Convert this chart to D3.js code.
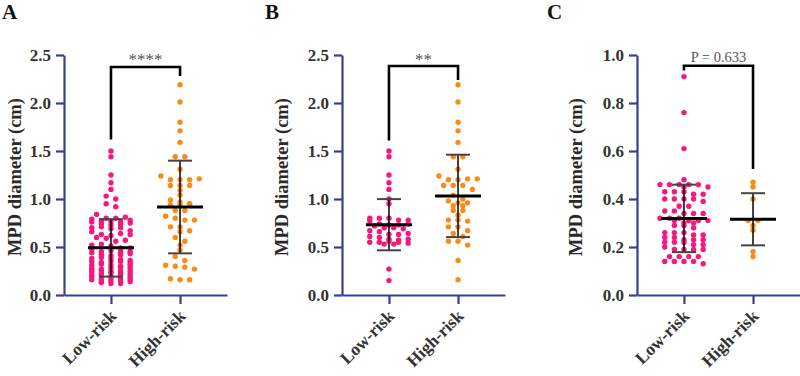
<!DOCTYPE html>
<html>
<head>
<meta charset="utf-8">
<script src="https://cdn.jsdelivr.net/npm/d3@7"></script>
<style>
    body { margin: 0; background: #fff; }
    svg { display: block; }
</style>
</head>
<body>
<script>
const groups = ['Low-risk', 'High-risk'];

// panel A
const a_low = [1.50, 1.44, 1.25, 1.17, 1.10, 1.03, 1.00, 0.95, 0.92, 0.84,
    0.80, 0.80, 0.79, 0.81, 0.77, 0.77, 0.76, 0.78, 0.76, 0.74, 0.73, 0.74, 0.75,
    0.70, 0.71, 0.69, 0.70, 0.67, 0.66, 0.63, 0.62, 0.64, 0.63, 0.60, 0.59,
    0.56, 0.57, 0.52, 0.53, 0.51, 0.49, 0.48, 0.49, 0.45, 0.46, 0.45, 0.44, 0.45,
    0.42, 0.41, 0.42, 0.43, 0.38, 0.39, 0.38, 0.37, 0.35, 0.34, 0.35, 0.36, 0.35, 0.33,
    0.31, 0.32, 0.31, 0.30, 0.31, 0.28, 0.27, 0.28, 0.29, 0.28, 0.26, 0.26,
    0.24, 0.25, 0.24, 0.23, 0.24, 0.25, 0.23, 0.21, 0.22, 0.21, 0.20, 0.21,
    0.19, 0.19, 0.17, 0.18, 0.17, 0.16, 0.17, 0.14, 0.15, 0.14, 0.13, 0.14, 0.12, 0.12];
const a_high = [2.19, 2.01, 1.80, 1.71, 1.59, 1.44, 1.44, 1.31, 1.24, 1.20, 1.20, 1.20, 1.21,
    1.14, 1.14, 1.14, 1.09, 1.04, 0.99, 0.97, 0.95, 0.94, 0.94, 0.94, 0.88, 0.88,
    0.82, 0.80, 0.78, 0.78, 0.71, 0.71, 0.67, 0.66, 0.60, 0.56, 0.52, 0.47, 0.40,
    0.36, 0.31, 0.30, 0.29, 0.27, 0.17, 0.16, 0.16];

// panel B
const b_low = [1.50, 1.44, 1.25, 1.17, 1.10, 1.00, 0.95,
    0.80, 0.80, 0.80, 0.78, 0.78, 0.77, 0.74, 0.73, 0.73, 0.74, 0.72,
    0.70, 0.70, 0.69, 0.67, 0.66, 0.63, 0.63, 0.64, 0.61, 0.60,
    0.58, 0.57, 0.58, 0.55, 0.55, 0.56, 0.55, 0.54, 0.53, 0.53, 0.27, 0.15];
const b_high = [2.19, 2.01, 1.80, 1.71, 1.59, 1.44, 1.44, 1.31, 1.24, 1.20, 1.20, 1.21, 1.21,
    1.14, 1.14, 1.14, 1.10, 1.04, 1.00, 0.98, 0.96, 0.96, 0.93, 0.93, 0.88, 0.88,
    0.83, 0.78, 0.78, 0.77, 0.71, 0.71, 0.67, 0.64, 0.61, 0.56, 0.56, 0.52, 0.36, 0.16];

// panel C
const c_low = [0.91, 0.76, 0.61, 0.48,
    0.46, 0.46, 0.46, 0.46, 0.46, 0.45, 0.45, 0.43, 0.43, 0.43, 0.42, 0.42,
    0.40, 0.40, 0.40, 0.40, 0.39, 0.37, 0.37, 0.35, 0.35, 0.34, 0.34, 0.34,
    0.32, 0.32, 0.32, 0.31, 0.31, 0.31, 0.31, 0.30, 0.30, 0.29, 0.29, 0.28,
    0.26, 0.26, 0.26, 0.25, 0.25, 0.24, 0.24, 0.23, 0.23, 0.23, 0.22, 0.22, 0.22,
    0.21, 0.21, 0.20, 0.19, 0.19, 0.19, 0.19, 0.16, 0.16, 0.16, 0.16,
    0.14, 0.14, 0.14, 0.14, 0.13];
const c_high = [0.47, 0.45, 0.40, 0.31, 0.31, 0.29, 0.27, 0.18, 0.16];

const ab_ticks = [0, 0.5, 1.0, 1.5, 2.0, 2.5];
const c_ticks = [0, 0.2, 0.4, 0.6, 0.8, 1.0];
const sig_labels = ['****', '**', 'P = 0.633'];
const letters = ['A', 'B', 'C'];

const colors = ['#f7177f', '#fb8a16'];
const axis_color = '#3a3e8e';
const serif = '"Liberation Serif", "Times New Roman", serif';

const width = 800, height = 376;
const top_y = 55, bottom_y = 295, plot_w = 163;
const dot_r = 2.7, dot_gap = 9.6, bin_px = 4.2;

var panels = [
    {letter_x: 2, axis_x: 64, label_x: 15, low: a_low, high: a_high, ticks: ab_ticks, max_row: 5, bracket: [1.62, 2.375, 2.28]},
    {letter_x: 265, axis_x: 342, label_x: 282, low: b_low, high: b_high, ticks: ab_ticks, max_row: 5, bracket: [1.61, 2.385, 2.24]},
    {letter_x: 547, axis_x: 637, label_x: 576, low: c_low, high: c_high, ticks: c_ticks, max_row: 6, bracket: [0.935, 0.955, 0.525]}
];

var svg = d3.select('body')
    .append('svg')
    .attr('width', width)
    .attr('height', height);

// symmetric rows, like a prism scatter dot plot
function swarm(values, y_scale, cx, max_row) {
    var pts = values.map(function (v, i) { return {v: v, y: y_scale(v), i: i}; })
        .sort(function (a, b) { return a.y - b.y; });
    var out = [];
    var row = [];
    function place(r) {
        r.sort(function (a, b) { return a.i - b.i; });
        r.forEach(function (d, k) {
            d.x = cx + (k - (r.length - 1) / 2) * dot_gap;
            out.push(d);
        });
    }
    pts.forEach(function (d) {
        if (row.length && (d.y - row[0].y >= bin_px || row.length >= max_row)) {
            place(row);
            row = [];
        }
        row.push(d);
    });
    place(row);
    return out;
}

panels.forEach(function (p, pi) {
    var g = svg.append('g').attr('transform', 'translate(' + p.axis_x + ',0)');

    var y_scale = d3.scaleLinear()
        .domain([0, p.ticks[p.ticks.length - 1]])
        .range([bottom_y, top_y]);

    var x_scale = d3.scalePoint()
        .domain(groups)
        .range([0, plot_w])
        .padding(0.68);

    // panel letter
    svg.append('text')
        .attr('x', p.letter_x)
        .attr('y', 19)
        .attr('font-family', serif)
        .attr('font-weight', 'bold')
        .attr('font-size', '21px')
        .attr('fill', '#111')
        .text(letters[pi]);

    // y label
    svg.append('text')
        .attr('transform', 'translate(' + p.label_x + ',' + 177 + ') rotate(-90)')
        .attr('dy', '0.35em')
        .attr('text-anchor', 'middle')
        .attr('font-family', serif)
        .attr('font-weight', 'bold')
        .attr('font-size', '18.5px')
        .attr('fill', '#2a2a2a')
        .text('MPD diameter (cm)');

    // dots
    [p.low, p.high].forEach(function (vals, gi) {
        var cx = x_scale(groups[gi]);
        g.append('g')
            .selectAll('circle')
            .data(swarm(vals, y_scale, cx, p.max_row))
            .enter()
            .append('circle')
            .attr('cx', function (d) { return d.x; })
            .attr('cy', function (d) { return d.y; })
            .attr('r', dot_r)
            .attr('fill', colors[gi]);

        var m = d3.mean(vals);
        var sd = d3.deviation(vals);
        g.append('line')
            .attr('x1', cx).attr('x2', cx)
            .attr('y1', y_scale(m - sd)).attr('y2', y_scale(m + sd))
            .attr('stroke', '#111').attr('stroke-width', 1.6);
        [m - sd, m + sd].forEach(function (v) {
            g.append('line')
                .attr('x1', cx - 12).attr('x2', cx + 12)
                .attr('y1', y_scale(v)).attr('y2', y_scale(v))
                .attr('stroke', '#444').attr('stroke-width', 2);
        });
        g.append('line')
            .attr('x1', cx - 23).attr('x2', cx + 23)
            .attr('y1', y_scale(m)).attr('y2', y_scale(m))
            .attr('stroke', '#000').attr('stroke-width', 3);
    });

    // axes
    var y_axis = d3.axisLeft(y_scale)
        .tickValues(p.ticks)
        .tickFormat(d3.format('.1f'))
        .tickSize(8)
        .tickSizeOuter(0)
        .tickPadding(5);
    var ya = g.append('g').call(y_axis);

    var x_axis = d3.axisBottom(x_scale)
        .tickSize(9)
        .tickSizeOuter(0);
    var xa = g.append('g')
        .attr('transform', 'translate(0,' + bottom_y + ')')
        .call(x_axis);

    [ya, xa].forEach(function (a) {
        a.attr('color', axis_color);
        a.selectAll('path, line').attr('stroke-width', 2.2);
        a.selectAll('text')
            .attr('font-family', serif)
            .attr('font-weight', 'bold')
            .attr('font-size', '17px')
            .attr('fill', '#333');
    });
    xa.selectAll('text')
        .attr('x', 0).attr('y', 0).attr('dy', 0)
        .attr('font-size', '17.5px')
        .attr('text-anchor', 'end')
        .attr('transform', 'translate(6,22) rotate(-45)');

    // significance bracket
    var x0 = x_scale(groups[0]), x1 = x_scale(groups[1]);
    var b = p.bracket;
    g.append('path')
        .attr('d', 'M' + x0 + ',' + y_scale(b[0]) + 'V' + y_scale(b[1]) + 'H' + x1 + 'V' + y_scale(b[2]))
        .attr('fill', 'none')
        .attr('stroke', '#000')
        .attr('stroke-width', 2.6);
    g.append('text')
        .attr('x', (x0 + x1) / 2)
        .attr('y', pi === 2 ? 62 : 65)
        .attr('text-anchor', 'middle')
        .attr('font-family', serif)
        .attr('font-size', pi === 2 ? '14.5px' : '17px')
        .attr('fill', '#555')
        .text(sig_labels[pi]);
});
</script>
</body>
</html>
